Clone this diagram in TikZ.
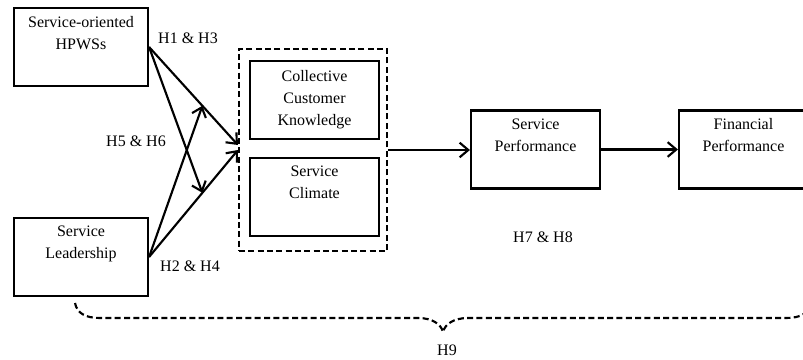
\documentclass[tikz,border=0pt]{standalone}
\usepackage{fontspec}
\setmainfont{Liberation Serif}
\usetikzlibrary{arrows.meta}

\begin{document}
\begin{tikzpicture}[x=0.75pt, y=-0.75pt, line width=1.6pt,
  font=\fontsize{12}{16.5}\selectfont,
  box/.style={draw, align=center, minimum width=96.75pt, minimum height=58.5pt, inner sep=0pt},
  wide/.style={box, minimum width=100.5pt},
  hyp/.style={-{Straight Barb[length=6.5pt,width=11pt]}},
  grpdash/.style={dash pattern=on 4.5pt off 2.5pt}]
  \useasboundingbox (0,0) rectangle (803,360);
  \clip (0,0) rectangle (803,360);
  %
  \node[wide] (hpws) at (81,47) {Service-oriented\\HPWSs\\\strut};
  \node[wide] (lead) at (81,257) {Service\\Leadership\\\strut};
  \node[box] (cck) at (314.5,100) {Collective\\Customer\\Knowledge};
  \node[box] (clim) at (314.5,197) {Service\\Climate\\\strut};
  \node[draw, grpdash, minimum width=111pt, minimum height=152pt] (grp) at (313,150) {};
  \node[box] (sp) at (535.5,149.5) {Service\\Performance\\\strut};
  \node[box] (fp) at (743.5,149.5) {Financial\\Performance\\\strut};
  %
  \coordinate (g1) at ([yshift=3.75pt]grp.west);
  \draw[hyp] (hpws.east) -- (g1) coordinate[pos=0.6] (m1);  % H1 & H3
  \draw[hyp] (lead.east) -- (grp.west) coordinate[pos=0.6] (m2); % H2 & H4
  \draw[hyp] (hpws.east) -- (m2);                           % moderation
  \draw[hyp] (lead.east) -- (m1);
  \draw[hyp] (grp.east) -- (grp.east -| sp.west);
  \draw[hyp] (sp) -- (fp);
  %
  \node (h13) at (188,38) {H1 \& H3};
  \node (h56) at (136,141) {H5 \& H6};
  \node (h24) at (190,266) {H2 \& H4};
  \node (h78) at (543,237) {H7 \& H8};
  \node (h9) at (447,350) {H9};
  % dashed brace for H9
  \coordinate (bl) at (75,303);
  \coordinate (tip) at (443,332);
  \coordinate (br) at (811,303);
  \draw[grpdash] (bl) .. controls (77,313) and (85,318) .. (100,318) -- (418,318)
    .. controls (432,318) and (441,324) .. (tip)
    .. controls (445,324) and (454,318) .. (468,318) -- (786,318)
    .. controls (801,318) and (809,313) .. (br);
\end{tikzpicture}
\end{document}
